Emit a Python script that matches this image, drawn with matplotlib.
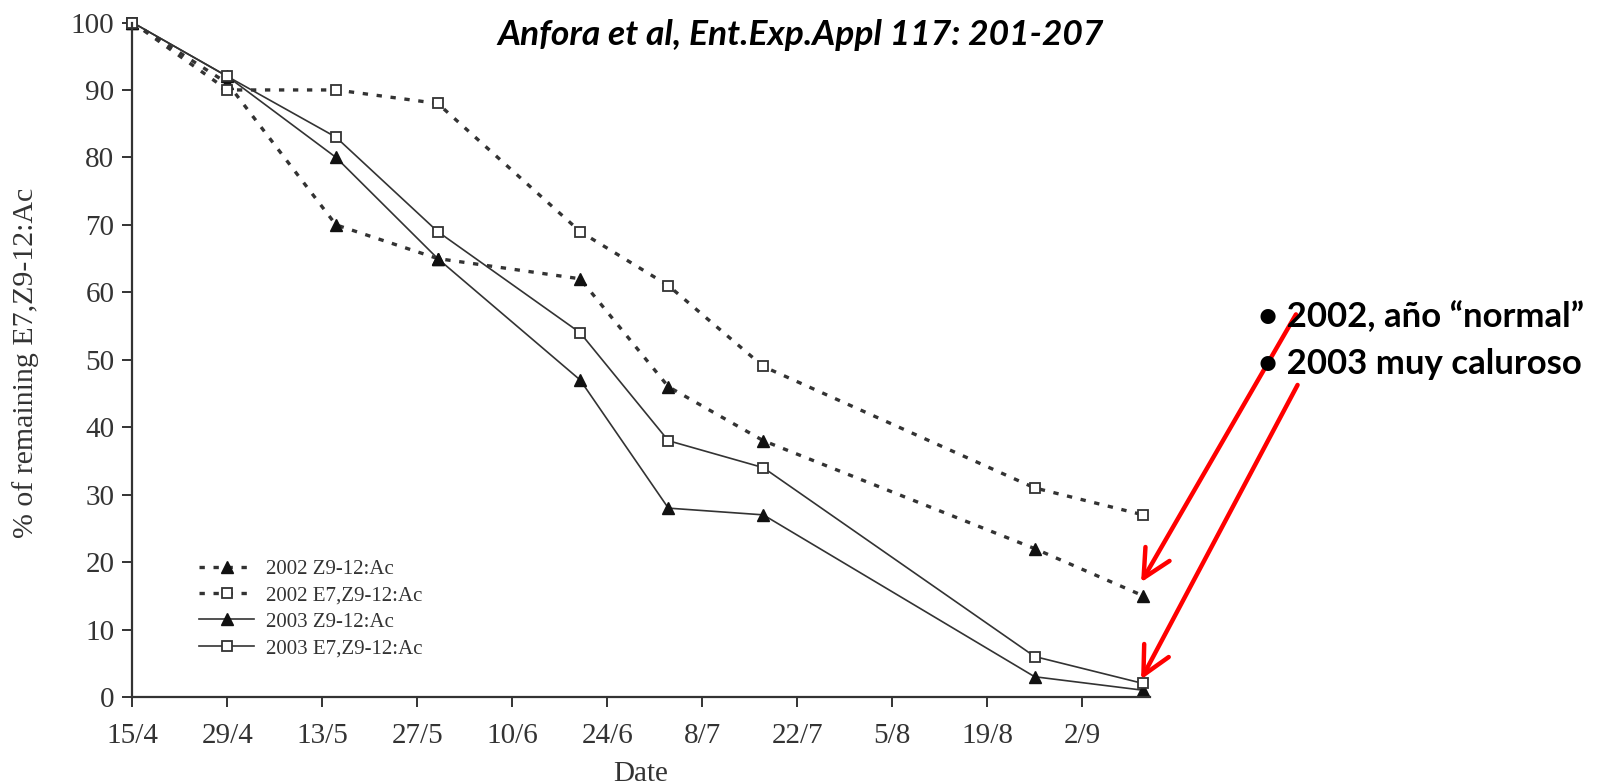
import matplotlib.pyplot as plt

# days since 15/4 for each sampling date
days = [0, 14, 30, 45, 66, 79, 93, 133, 149]

z9_2002 = [100, 91, 70, 65, 62, 46, 38, 22, 15]
e7z9_2002 = [100, 90, 90, 88, 69, 61, 49, 31, 27]
z9_2003 = [100, 92, 80, 65, 47, 28, 27, 3, 1]
e7z9_2003 = [100, 92, 83, 69, 54, 38, 34, 6, 2]

tick_days = [0, 14, 28, 42, 56, 70, 84, 98, 112, 126, 140]
tick_labels = ['15/4', '29/4', '13/5', '27/5', '10/6', '24/6', '8/7', '22/7', '5/8', '19/8', '2/9']

ink = '#333333'
serif = ['Liberation Serif', 'DejaVu Serif']

fig = plt.figure(figsize=(15.98, 7.84), dpi=100)
ax = fig.add_axes([0.0829, 0.111, 0.6367, 0.8603])

dash = (0, (1.6, 2.6))
ax.plot(days, z9_2002, color=ink, lw=2.4, linestyle=dash, marker='^', ms=8,
        mfc='#111111', mec='#111111', label='2002 Z9-12:Ac', clip_on=False)
ax.plot(days, e7z9_2002, color=ink, lw=2.4, linestyle=dash, marker='s', ms=7,
        mfc='white', mec=ink, mew=1.3, label='2002 E7,Z9-12:Ac', clip_on=False)
ax.plot(days, z9_2003, color=ink, lw=1.2, linestyle='-', marker='^', ms=8,
        mfc='#111111', mec='#111111', label='2003 Z9-12:Ac', clip_on=False)
ax.plot(days, e7z9_2003, color=ink, lw=1.2, linestyle='-', marker='s', ms=7,
        mfc='white', mec=ink, mew=1.3, label='2003 E7,Z9-12:Ac', clip_on=False)

ax.set_xlim(0, 150)
ax.set_ylim(0, 100)
ax.set_xticks(tick_days)
ax.set_xticklabels(tick_labels)
ax.set_yticks(range(0, 101, 10))
for s in ['top', 'right']:
    ax.spines[s].set_visible(False)
for s in ['left', 'bottom']:
    ax.spines[s].set_linewidth(1.6)
    ax.spines[s].set_color(ink)
ax.tick_params(direction='out', length=7, width=1.4, color=ink, labelcolor=ink,
               labelsize=21, pad=6)
ax.tick_params(axis='x', pad=12)
for lab in ax.get_xticklabels() + ax.get_yticklabels():
    lab.set_family(serif)

ax.set_xlabel('Date', family=serif, fontsize=21, color=ink)
ax.set_ylabel('% of remaining E7,Z9-12:Ac', family=serif, fontsize=21.5, color=ink)
ax.xaxis.set_label_coords(0.499, -0.095)
ax.yaxis.set_label_coords(-0.092, 0.495)

leg = ax.legend(loc='upper left', bbox_to_anchor=(0.047, 0.232), frameon=False,
                prop={'family': serif, 'size': 15}, handlelength=2.65,
                handletextpad=0.55, labelspacing=0.33, labelcolor=ink)

fig.text(0.501, 0.955, 'Anfora et al, Ent.Exp.Appl 117: 201-207', family='Lato',
         fontsize=25.5, fontweight='bold', fontstyle='italic', ha='center', va='center')

fig.text(0.787, 0.595, '• 2002, año “normal”', family='Lato', fontsize=25,
         fontweight='bold', ha='left', va='center')
fig.text(0.787, 0.536, '• 2003 muy caluroso', family='Lato', fontsize=25,
         fontweight='bold', ha='left', va='center')

arrow = dict(arrowstyle='->,head_length=1.0,head_width=0.5', color='red', lw=3.2,
             shrinkA=0, shrinkB=0, mutation_scale=20)
ax.annotate('', xy=(148.7, 17.0), xycoords='data', xytext=(0.811, 0.599),
            textcoords='figure fraction', arrowprops=arrow, annotation_clip=False)
ax.annotate('', xy=(148.7, 2.6), xycoords='data', xytext=(0.812, 0.509),
            textcoords='figure fraction', arrowprops=arrow, annotation_clip=False)

fig.savefig('out.png', dpi=100)
